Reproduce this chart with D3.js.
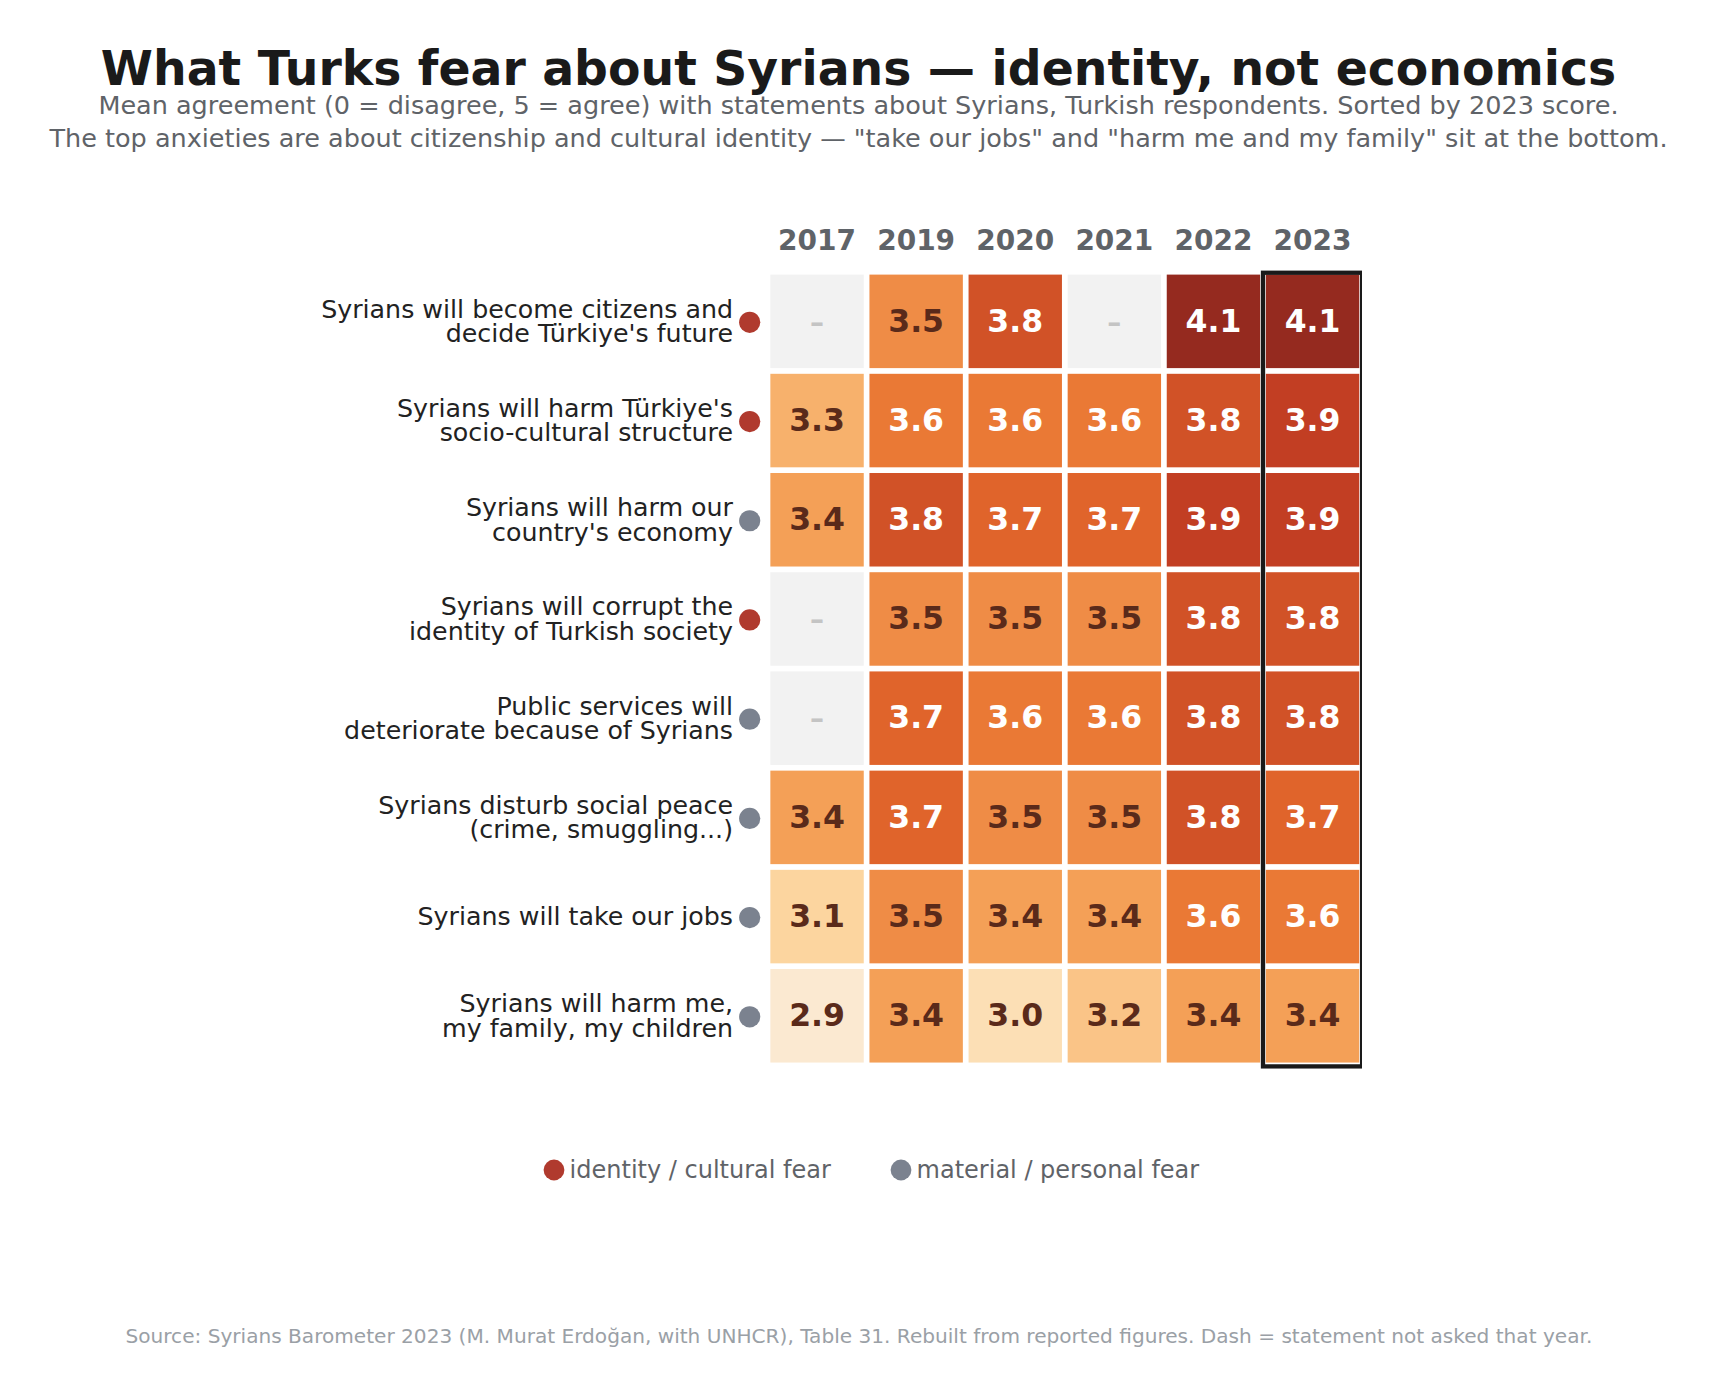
<!doctype html>
<html>
<head>
    <meta charset="utf-8">
    <title>What Turks fear about Syrians</title>
    <script src="https://cdnjs.cloudflare.com/ajax/libs/d3/7.8.5/d3.min.js"></script>
    <style>
        body { margin: 0; background: #fff; }
        svg { display: block; font-family: "DejaVu Sans", sans-serif; }
    </style>
</head>
<body>
<svg id="chart" width="1717" height="1396"></svg>
<script>

    /* DATA */

    var years = ["2017", "2019", "2020", "2021", "2022", "2023"];

    var statements = [
        "Syrians will become citizens and\ndecide Türkiye's future",
        "Syrians will harm Türkiye's\nsocio-cultural structure",
        "Syrians will harm our\ncountry's economy",
        "Syrians will corrupt the\nidentity of Turkish society",
        "Public services will\ndeteriorate because of Syrians",
        "Syrians disturb social peace\n(crime, smuggling...)",
        "Syrians will take our jobs",
        "Syrians will harm me,\nmy family, my children"
    ];

    var kinds = ["identity", "identity", "material", "identity", "material", "material", "material", "material"];

    // one array per survey year, rows in the order of statements (null = not asked)
    var s2017 = [null, 3.3, 3.4, null, null, 3.4, 3.1, 2.9];
    var s2019 = [3.5, 3.6, 3.8, 3.5, 3.7, 3.7, 3.5, 3.4];
    var s2020 = [3.8, 3.6, 3.7, 3.5, 3.6, 3.5, 3.4, 3.0];
    var s2021 = [null, 3.6, 3.7, 3.5, 3.6, 3.5, 3.4, 3.2];
    var s2022 = [4.1, 3.8, 3.9, 3.8, 3.8, 3.8, 3.6, 3.4];
    var s2023 = [4.1, 3.9, 3.9, 3.8, 3.8, 3.7, 3.6, 3.4];

    var legendKeys = ["identity", "material"];
    var legendLabels = ["identity / cultural fear", "material / personal fear"];

    /* SETUP */

    var byYear = [s2017, s2019, s2020, s2021, s2022, s2023];
    var cells = [];
    years.forEach(function (yr, j) {
        byYear[j].forEach(function (v, i) {
            cells.push({ year: yr, row: i, value: v });
        });
    });

    var svg = d3.select("#chart");

    var xScale = d3.scaleBand().domain(years).range([767.5, 1362.1]);
    var yScale = d3.scaleBand().domain(d3.range(statements.length)).range([271.75, 1065.4]);

    var colour = d3.scaleLinear()
        .domain([2.9, 3.0, 3.1, 3.2, 3.3, 3.4, 3.5, 3.6, 3.7, 3.8, 3.9, 4.1])
        .range(["#fbe9d1", "#fcdfb5", "#fcd59f", "#fac487", "#f7b16c", "#f4a057",
                "#ef8c46", "#ea7935", "#e0642b", "#d15227", "#c23e23", "#952a1f"])
        .clamp(true);

    var kindColour = d3.scaleOrdinal().domain(legendKeys).range(["#b03a2e", "#7b828f"]);

    var inset = 2.85;

    /* TITLES */

    svg.append("text")
        .attr("x", 858.5).attr("y", 85)
        .attr("text-anchor", "middle")
        .style("font-size", "47.3px").style("font-weight", "bold").style("fill", "#1a1a1a")
        .text("What Turks fear about Syrians \u2014 identity, not economics");

    svg.append("text")
        .attr("x", 858.5).attr("y", 114)
        .attr("text-anchor", "middle")
        .style("font-size", "25.5px").style("fill", "#5f6368")
        .text("Mean agreement (0 = disagree, 5 = agree) with statements about Syrians, Turkish respondents. Sorted by 2023 score.");

    svg.append("text")
        .attr("x", 858.5).attr("y", 147)
        .attr("text-anchor", "middle")
        .style("font-size", "25.5px").style("fill", "#5f6368")
        .text("The top anxieties are about citizenship and cultural identity \u2014 \"take our jobs\" and \"harm me and my family\" sit at the bottom.");

    /* YEAR HEADERS */

    svg.append("g")
        .selectAll("text")
        .data(years)
        .enter()
        .append("text")
        .attr("x", d => xScale(d) + xScale.bandwidth() / 2)
        .attr("y", 250)
        .attr("text-anchor", "middle")
        .style("font-size", "28px").style("font-weight", "bold").style("fill", "#5f6368")
        .text(d => d);

    /* CELLS */

    var cellG = svg.append("g")
        .selectAll("g")
        .data(cells)
        .enter()
        .append("g");

    cellG.append("rect")
        .attr("x", d => xScale(d.year) + inset)
        .attr("y", d => yScale(d.row) + inset)
        .attr("width", xScale.bandwidth() - 2 * inset)
        .attr("height", yScale.bandwidth() - 2 * inset)
        .style("fill", d => d.value == null ? "#f2f2f2" : colour(d.value));

    cellG.append("text")
        .attr("x", d => xScale(d.year) + xScale.bandwidth() / 2)
        .attr("y", d => yScale(d.row) + yScale.bandwidth() / 2 + 10.3)
        .attr("text-anchor", "middle")
        .style("font-size", d => d.value == null ? "28px" : "31.5px")
        .style("font-weight", "bold")
        .style("fill", d => d.value == null ? "#c4c4c4" : (d.value >= 3.6 ? "#ffffff" : "#5a2a1a"))
        .text(d => d.value == null ? "\u2013" : d.value.toFixed(1));

    /* 2023 HIGHLIGHT */

    svg.append("clipPath").attr("id", "gridClip")
        .append("rect")
        .attr("x", 0).attr("y", 0)
        .attr("width", xScale.range()[1]).attr("height", 1396);

    svg.append("rect")
        .attr("clip-path", "url(#gridClip)")
        .attr("x", xScale("2023"))
        .attr("y", yScale.range()[0] + 1)
        .attr("width", xScale.bandwidth())
        .attr("height", yScale.range()[1] - yScale.range()[0])
        .style("fill", "none").style("stroke", "#1a1a1a").style("stroke-width", 4.3);

    /* ROW LABELS */

    var rowG = svg.append("g")
        .selectAll("g")
        .data(statements)
        .enter()
        .append("g")
        .attr("transform", (d, i) => "translate(0," + (yScale(i) + yScale.bandwidth() / 2) + ")");

    rowG.append("text")
        .attr("text-anchor", "end")
        .style("font-size", "25.3px").style("fill", "#222222")
        .each(function (d) {
            var lines = d.split("\n");
            var start = lines.length == 1 ? 8.5 : -3.6;
            lines.forEach(function (line, k) {
                d3.select(this).append("tspan")
                    .attr("x", 733)
                    .attr("y", start + k * 24.4)
                    .text(line);
            }, this);
        });

    rowG.append("circle")
        .attr("cx", 749.7)
        .attr("cy", 1)
        .attr("r", 10.6)
        .style("fill", (d, i) => kindColour(kinds[i]));

    /* LEGEND */

    var legendX = [554, 901];

    var legG = svg.append("g")
        .selectAll("g")
        .data(legendKeys)
        .enter()
        .append("g")
        .attr("transform", (d, i) => "translate(" + legendX[i] + ",1170)");

    legG.append("circle")
        .attr("r", 10.4)
        .style("fill", d => kindColour(d));

    legG.append("text")
        .attr("x", 15.6)
        .attr("y", 8)
        .style("font-size", "24px").style("fill", "#5f6368")
        .text((d, i) => legendLabels[i]);

    /* SOURCE */

    svg.append("text")
        .attr("x", 858.9).attr("y", 1343)
        .attr("text-anchor", "middle")
        .style("font-size", "20.1px").style("fill", "#9aa0a6")
        .text("Source: Syrians Barometer 2023 (M. Murat Erdo\u011fan, with UNHCR), Table 31. Rebuilt from reported figures. Dash = statement not asked that year.");

</script>
</body>
</html>
